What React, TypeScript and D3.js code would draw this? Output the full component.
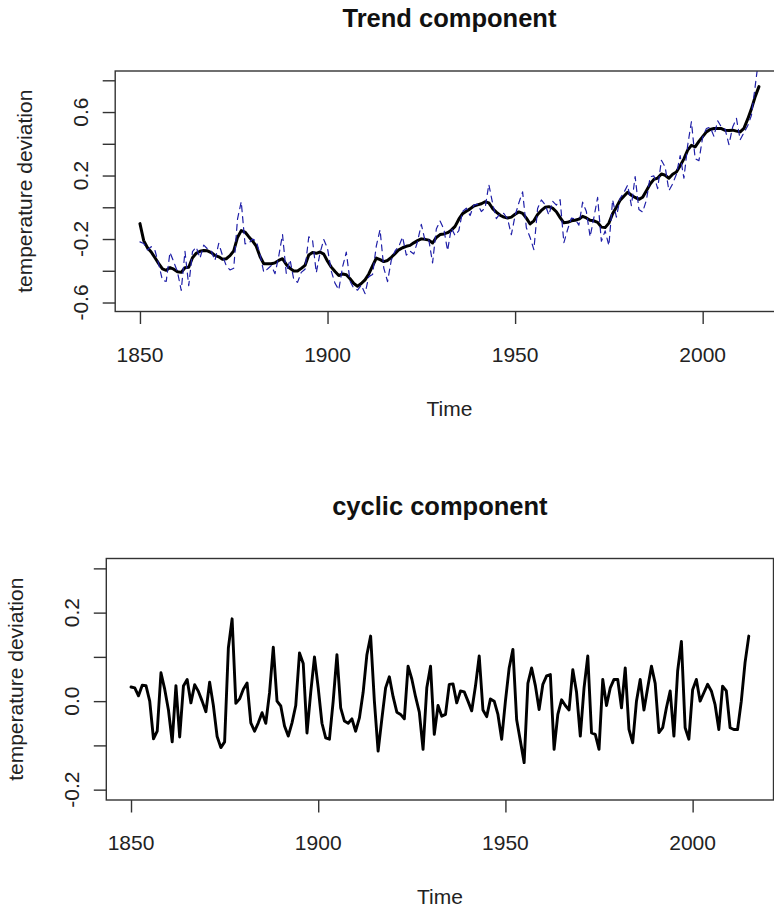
import { useEffect, useRef } from "react";
import * as d3 from "d3";

// yearly series, first value belongs to 1850
const startYear = 1850;

const observed = [
  -0.218, -0.228, -0.269, -0.248, -0.272, -0.358, -0.461, -0.467, -0.284, -0.343,
  -0.407, -0.524, -0.278, -0.494, -0.279, -0.251, -0.321, -0.238, -0.262, -0.276,
  -0.335, -0.227, -0.304, -0.368, -0.395, -0.384, -0.075, 0.035, -0.23, -0.227,
  -0.2, -0.213, -0.296, -0.409, -0.389, -0.367, -0.418, -0.307, -0.171, -0.416,
  -0.33, -0.455, -0.473, -0.41, -0.39, -0.186, -0.206, -0.412, -0.289, -0.203,
  -0.259, -0.402, -0.479, -0.52, -0.377, -0.283, -0.465, -0.511, -0.522, -0.49,
  -0.544, -0.437, -0.424, -0.244, -0.141, -0.383, -0.468, -0.333, -0.275, -0.247,
  -0.187, -0.302, -0.276, -0.294, -0.215, -0.108, -0.21, -0.206, -0.35, -0.137,
  -0.087, -0.137, -0.273, -0.131, -0.178, -0.147, -0.026, -0.006, -0.052, 0.014,
  0.02, -0.027, -0.004, 0.144, 0.025, -0.071, -0.038, -0.039, -0.074, -0.173,
  -0.052, 0.028, 0.097, -0.129, -0.19, -0.267, -0.007, 0.046, 0.017, -0.049,
  0.038, 0.014, 0.048, -0.223, -0.14, -0.068, -0.074, -0.113, 0.032, -0.027,
  -0.186, -0.065, 0.062, -0.214, -0.149, -0.241, 0.047, -0.062, 0.057, 0.092,
  0.14, 0.011, 0.194, -0.014, -0.03, 0.045, 0.192, 0.198, 0.118, 0.296,
  0.254, 0.105, 0.148, 0.208, 0.325, 0.183, 0.39, 0.539, 0.306, 0.294,
  0.441, 0.496, 0.505, 0.447, 0.545, 0.506, 0.491, 0.395, 0.506, 0.56,
  0.425, 0.47, 0.514, 0.579, 0.763, 0.95,
];

const trend = [
  -0.103, -0.21, -0.255, -0.282, -0.318, -0.355, -0.388, -0.397, -0.38, -0.39,
  -0.406, -0.41, -0.381, -0.378, -0.318, -0.29, -0.277, -0.272, -0.274, -0.285,
  -0.303, -0.312, -0.328, -0.324, -0.305, -0.275, -0.19, -0.147, -0.156, -0.185,
  -0.212, -0.245, -0.31, -0.356, -0.356, -0.356, -0.35, -0.335, -0.324, -0.36,
  -0.385, -0.402, -0.402, -0.385, -0.366, -0.3, -0.285, -0.29, -0.282, -0.295,
  -0.34, -0.377, -0.405, -0.43, -0.42, -0.425, -0.45, -0.48, -0.497, -0.48,
  -0.457, -0.42, -0.37, -0.32, -0.33, -0.342, -0.335, -0.315, -0.292, -0.268,
  -0.255, -0.246, -0.24, -0.224, -0.21, -0.199, -0.202, -0.207, -0.225, -0.19,
  -0.172, -0.168, -0.16, -0.144, -0.12, -0.075, -0.04, -0.025, -0.01, 0.008,
  0.015, 0.022, 0.035, 0.028, -0.008, -0.03, -0.05, -0.062, -0.068, -0.062,
  -0.044, -0.029, -0.038, -0.068, -0.105, -0.085, -0.045, -0.02, 0.0, 0.004,
  -0.005, -0.028, -0.065, -0.098, -0.095, -0.085, -0.082, -0.075, -0.057, -0.067,
  -0.082, -0.085, -0.095, -0.125, -0.128, -0.1, -0.04, 0.0, 0.045, 0.07,
  0.095, 0.076, 0.062, 0.05, 0.063, 0.104, 0.147, 0.176, 0.184, 0.21,
  0.202, 0.183, 0.208, 0.222, 0.262, 0.305, 0.36, 0.39, 0.381, 0.415,
  0.445, 0.475, 0.49, 0.496, 0.496, 0.496, 0.485, 0.484, 0.486, 0.48,
  0.475, 0.497, 0.555, 0.62, 0.697, 0.76,
];

const cyclic = [
  0.032, 0.03, 0.012, 0.036, 0.035, 0.0, -0.085, -0.068, 0.064, 0.027,
  -0.02, -0.092, 0.035, -0.081, 0.034, 0.049, -0.004, 0.037, 0.022, 0.0,
  -0.024, 0.043, -0.01, -0.08, -0.105, -0.092, 0.12, 0.186, -0.005, 0.005,
  0.027, 0.041, -0.049, -0.068, -0.049, -0.026, -0.05, 0.019, 0.122, 0.0,
  -0.011, -0.056, -0.079, -0.049, -0.01, 0.109, 0.085, -0.072, 0.02, 0.1,
  0.03, -0.05, -0.083, -0.086, 0.0, 0.105, -0.015, -0.045, -0.05, -0.04,
  -0.068, -0.038, 0.02, 0.105, 0.147, 0.0, -0.113, -0.04, 0.03, 0.055,
  0.01, -0.025, -0.03, -0.04, 0.079, 0.05, 0.01, -0.025, -0.109, 0.03,
  0.079, -0.075, -0.01, -0.034, -0.03, 0.038, 0.039, -0.004, 0.023, 0.021,
  0.0, -0.022, 0.034, 0.102, -0.02, -0.035, 0.005, 0.0, -0.03, -0.086,
  0.0, 0.075, 0.117, -0.042, -0.09, -0.139, 0.04, 0.075, 0.035, -0.019,
  0.038, 0.057, 0.06, -0.109, -0.03, 0.003, -0.01, -0.02, 0.071, 0.02,
  -0.079, 0.03, 0.102, -0.072, -0.075, -0.109, 0.049, -0.01, 0.03, 0.049,
  0.049, -0.015, 0.075, -0.064, -0.094, 0.0, 0.049, -0.02, 0.03, 0.079,
  0.04, -0.071, -0.06, -0.015, 0.023, -0.079, 0.068, 0.135, -0.06, -0.086,
  0.026, 0.049, 0.0, 0.019, 0.038, 0.023, -0.008, -0.064, 0.034, 0.023,
  -0.06, -0.064, -0.064, 0.0, 0.087, 0.147,
];

const xTicks = [1850, 1900, 1950, 2000];
const trendTicks = [-0.6, -0.4, -0.2, 0, 0.2, 0.4, 0.6, 0.8];
const trendLabels = ["-0.6", "", "-0.2", "", "0.2", "", "0.6", ""];
const cyclicTicks = [-0.2, -0.1, 0, 0.1, 0.2, 0.3];
const cyclicLabels = ["-0.2", "", "0.0", "", "0.2", ""];

const font = "'Liberation Sans', Arial, sans-serif";

function drawPanel(svg, opts) {
  const { box, yDomain, title, ticks, labels, series, id } = opts;
  const x = d3.scaleLinear().domain([1843.4, 2021.6]).range([box.left, box.right]);
  const y = d3.scaleLinear().domain(yDomain).range([box.bottom, box.top]);
  const g = svg.append("g");

  g.append("clipPath")
    .attr("id", id)
    .append("rect")
    .attr("x", box.left)
    .attr("y", box.top)
    .attr("width", box.right - box.left)
    .attr("height", box.bottom - box.top);

  // lines
  const line = d3
    .line()
    .x((d, i) => x(startYear + i))
    .y((d) => y(d));

  series.forEach((s) => {
    g.append("path")
      .datum(s.values)
      .attr("clip-path", `url(#${id})`)
      .attr("d", line)
      .attr("fill", "none")
      .attr("stroke", s.color)
      .attr("stroke-width", s.width)
      .attr("stroke-dasharray", s.dash || null)
      .attr("stroke-linejoin", "round")
      .attr("stroke-linecap", "round");
  });

  // box
  g.append("rect")
    .attr("x", box.left)
    .attr("y", box.top)
    .attr("width", box.right - box.left)
    .attr("height", box.bottom - box.top)
    .attr("fill", "none")
    .attr("stroke", "#333")
    .attr("stroke-width", 1.4);

  // x axis
  g.append("g")
    .attr("transform", `translate(0, ${box.bottom})`)
    .call(d3.axisBottom(x).tickValues(xTicks).tickSize(12.5).tickPadding(0).tickFormat(() => ""))
    .call((a) => a.select(".domain").remove())
    .call((a) => a.selectAll("line").attr("stroke", "#333").attr("stroke-width", 1.4));

  g.selectAll("text.xlab")
    .data(xTicks)
    .enter()
    .append("text")
    .attr("x", (d) => x(d))
    .attr("y", box.bottom + 50)
    .attr("text-anchor", "middle")
    .attr("font-family", font)
    .attr("font-size", 21)
    .attr("fill", "#222")
    .text((d) => d);

  // y axis
  g.append("g")
    .attr("transform", `translate(${box.left}, 0)`)
    .call(d3.axisLeft(y).tickValues(ticks).tickSize(12.5).tickFormat(() => ""))
    .call((a) => a.select(".domain").remove())
    .call((a) => a.selectAll("line").attr("stroke", "#333").attr("stroke-width", 1.4));

  g.selectAll("text.ylab")
    .data(ticks.filter((t, i) => labels[i] !== ""))
    .enter()
    .append("text")
    .attr("transform", (d) => `translate(${box.left - 27}, ${y(d)}) rotate(-90)`)
    .attr("text-anchor", "middle")
    .attr("font-family", font)
    .attr("font-size", 21)
    .attr("fill", "#222")
    .text((d) => labels[ticks.indexOf(d)]);

  const cx = (box.left + box.right) / 2;
  const cy = (box.top + box.bottom) / 2;

  g.append("text")
    .attr("x", cx)
    .attr("y", box.top - 44)
    .attr("text-anchor", "middle")
    .attr("font-family", font)
    .attr("font-size", 25.5)
    .attr("font-weight", "bold")
    .attr("fill", "#111")
    .text(title);

  g.append("text")
    .attr("x", cx)
    .attr("y", box.bottom + 104)
    .attr("text-anchor", "middle")
    .attr("font-family", font)
    .attr("font-size", 21)
    .attr("fill", "#222")
    .text("Time");

  g.append("text")
    .attr("transform", `translate(${box.left - 83}, ${cy}) rotate(-90)`)
    .attr("text-anchor", "middle")
    .attr("font-family", font)
    .attr("font-size", 21)
    .attr("fill", "#222")
    .text("temperature deviation");
}

export default function App() {
  const svgRef = useRef(null);

  useEffect(() => {
    const svg = d3.select(svgRef.current);
    svg.selectAll("*").remove();

    drawPanel(svg, {
      id: "clip-trend",
      box: { left: 115.2, right: 783.7, top: 71, bottom: 311.5 },
      yDomain: [-0.6566, 0.8586],
      title: "Trend component",
      ticks: trendTicks,
      labels: trendLabels,
      series: [
        { values: trend, color: "#000", width: 3 },
        { values: observed, color: "#1f1fa8", width: 1.2, dash: "6,5" },
      ],
    });

    drawPanel(svg, {
      id: "clip-cyclic",
      box: { left: 106.3, right: 773.5, top: 558.5, bottom: 800 },
      yDomain: [-0.2234, 0.3223],
      title: "cyclic component",
      ticks: cyclicTicks,
      labels: cyclicLabels,
      series: [{ values: cyclic, color: "#000", width: 2.9 }],
    });
  }, []);

  return (
    <svg
      ref={svgRef}
      width={774}
      height={907}
      style={{ position: "absolute", left: 0, top: 0, background: "white" }}
    ></svg>
  );
}
